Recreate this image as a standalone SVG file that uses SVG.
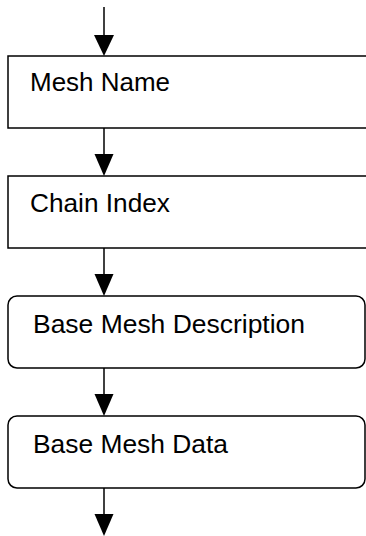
<svg xmlns="http://www.w3.org/2000/svg" width="366" height="536" viewBox="0 0 366 536">
  <style>
    .box { fill: #ffffff; stroke: #000000; stroke-width: 1.5; }
    .lbl { font-family: "Liberation Sans", Arial, sans-serif; font-size: 25px; fill: #000000; }
    .edge { stroke: #000000; stroke-width: 1.5; fill: none; }
    .head { fill: #000000; stroke: none; }
  </style>
  <rect width="366" height="536" fill="#ffffff"/>
  <g id="node-mesh-name">
    <rect class="box" x="8" y="56" width="370" height="72"/>
    <text class="lbl" x="30" y="91" textLength="140" lengthAdjust="spacingAndGlyphs">Mesh Name</text>
  </g>
  <g id="node-chain-index">
    <rect class="box" x="8" y="176" width="370" height="72"/>
    <text class="lbl" x="30" y="212" textLength="140" lengthAdjust="spacingAndGlyphs">Chain Index</text>
  </g>
  <g id="node-base-mesh-description">
    <rect class="box" x="8" y="296" width="357" height="72" rx="9" ry="9"/>
    <text class="lbl" x="33" y="332.5" textLength="272" lengthAdjust="spacingAndGlyphs">Base Mesh Description</text>
  </g>
  <g id="node-base-mesh-data">
    <rect class="box" x="8" y="416" width="357" height="72" rx="9" ry="9"/>
    <text class="lbl" x="33" y="452.5" textLength="195" lengthAdjust="spacingAndGlyphs">Base Mesh Data</text>
  </g>
  <g id="connectors">
    <line class="edge" x1="104" y1="7" x2="104" y2="40"/>
    <polygon class="head" points="94,35 114,35 104,56"/>
    <line class="edge" x1="104" y1="128" x2="104" y2="160"/>
    <polygon class="head" points="94.5,154 113.5,154 104,176"/>
    <line class="edge" x1="104" y1="248" x2="104" y2="280"/>
    <polygon class="head" points="94.5,274 113.5,274 104,296"/>
    <line class="edge" x1="104" y1="368" x2="104" y2="400"/>
    <polygon class="head" points="94.5,394 113.5,394 104,416"/>
    <line class="edge" x1="104" y1="488" x2="104" y2="520"/>
    <polygon class="head" points="94.5,514 113.5,514 104,536"/>
  </g>
</svg>
